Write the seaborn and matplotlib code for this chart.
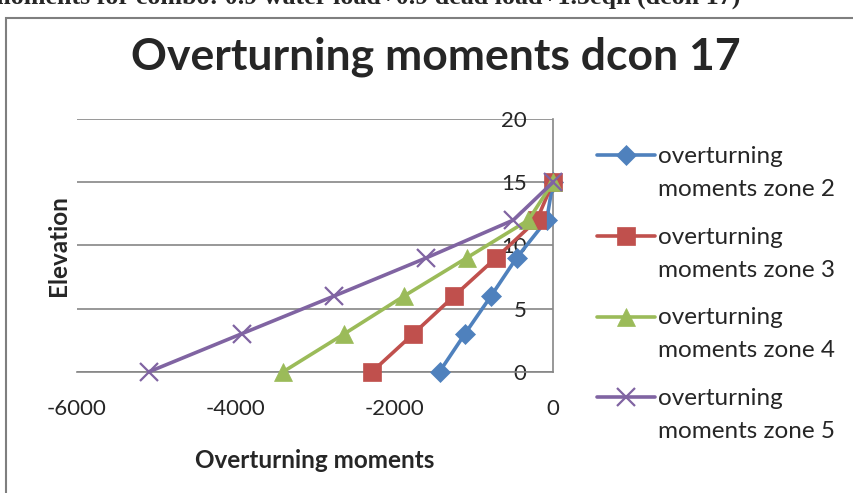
import numpy as np
import pandas as pd
import matplotlib
matplotlib.use("Agg")
import matplotlib.pyplot as plt
import seaborn as sns
from matplotlib.patches import Rectangle
from matplotlib.legend_handler import HandlerLine2D

# data
elevation = [0, 3, 6, 9, 12, 15]
zone2 = [-1430, -1110, -780, -460, -80, 0]
zone3 = [-2280, -1760, -1245, -720, -205, 0]
zone4 = [-3400, -2630, -1875, -1090, -310, 0]
zone5 = [-5090, -3925, -2755, -1600, -500, 0]
series_names = ["overturning\nmoments zone 2", "overturning\nmoments zone 3",
                "overturning\nmoments zone 4", "overturning\nmoments zone 5"]
x_ticks = [-6000, -4000, -2000, 0]
y_ticks = [0, 5, 10, 15, 20]

colors = ["#4F81BD", "#C0504D", "#9BBB59", "#8064A2"]
markers = ["D", "s", "^", "x"]
msizes = [10, 13, 13, 13]

sns.set_style("white")
plt.rcParams["font.family"] = ["Lato", "DejaVu Sans"]
plt.rcParams["axes.unicode_minus"] = False

fig = plt.figure(figsize=(8.54, 4.93), dpi=100)
ax = fig.add_axes([77 / 854, 1 - 371.7 / 493, (553 - 77) / 854, (371.7 - 119) / 493])

for vals, name, c, m, ms in zip([zone2, zone3, zone4, zone5], series_names, colors, markers, msizes):
    df = pd.DataFrame({"moment": vals, "elevation": elevation})
    sns.lineplot(data=df, x="moment", y="elevation", ax=ax, sort=False, color=c,
                 marker=m, markersize=ms, markeredgecolor=c, markeredgewidth=1.6 if m == "x" else 0.5,
                 linewidth=2.6, label=name, clip_on=False, zorder=3)

ax.set_xlim(-6000, 0)
ax.set_ylim(0, 20)
ax.set_xticks(x_ticks)
ax.set_yticks(y_ticks)
ax.grid(axis="y", color="#868686", linewidth=1.2)
ax.grid(axis="x", visible=False)
for s in ["top", "left"]:
    ax.spines[s].set_visible(False)
for s in ["bottom", "right"]:
    ax.spines[s].set_color("#868686")
    ax.spines[s].set_linewidth(1.2)

ax.yaxis.tick_right()
ax.tick_params(axis="y", length=0, pad=-19, labelsize=16)
for lab in ax.get_yticklabels():
    lab.set_horizontalalignment("right")
ax.tick_params(axis="x", length=0, pad=20, labelsize=16)

ax.set_xlabel("Overturning moments", fontsize=17.5, fontweight="bold", labelpad=21)
ax.set_ylabel("Elevation", fontsize=17.5, fontweight="bold", labelpad=5)
ax.yaxis.set_label_position("left")


class TopHandler(HandlerLine2D):
    # put the legend key next to the first line of a two-line label
    def create_artists(self, legend, orig_handle, xdescent, ydescent, width, height, fontsize, trans):
        arts = super().create_artists(legend, orig_handle, xdescent, ydescent, width, height, fontsize, trans)
        for a in arts:
            a.set_ydata(np.asarray(a.get_ydata()) + 0.72 * fontsize)
        return arts


handles, labels = ax.get_legend_handles_labels()
leg = ax.legend(handles, labels, loc="upper left", bbox_to_anchor=(597 / 854, 1 - 146 / 493),
                bbox_transform=fig.transFigure, frameon=False, fontsize=17.5, handlelength=2.4,
                handletextpad=0.12, labelspacing=1.1, borderaxespad=0, borderpad=0,
                handler_map={h: TopHandler() for h in handles})
for t in leg.get_texts():
    t.set_linespacing(1.7)

fig.text(436 / 854, 1 - 57 / 493, "Overturning moments dcon 17", ha="center", va="center",
         fontsize=32, fontweight="bold")

# piece of the document text above the chart, cut by the page edge
fig.text(365 / 854, 1 - 4 / 493, "moments for combo: 0.9 water load+0.9 dead load+1.5eqh (dcon 17)",
         ha="center", va="baseline", fontsize=18.7, fontweight="bold",
         family=["Liberation Serif", "DejaVu Serif"])

fig.add_artist(Rectangle((6 / 854, -0.1), 1.2, 1 - 18 / 493 + 0.1, transform=fig.transFigure,
                         fill=False, edgecolor="#7F7F7F", linewidth=1.5))

fig.savefig("out.png", dpi=100)
